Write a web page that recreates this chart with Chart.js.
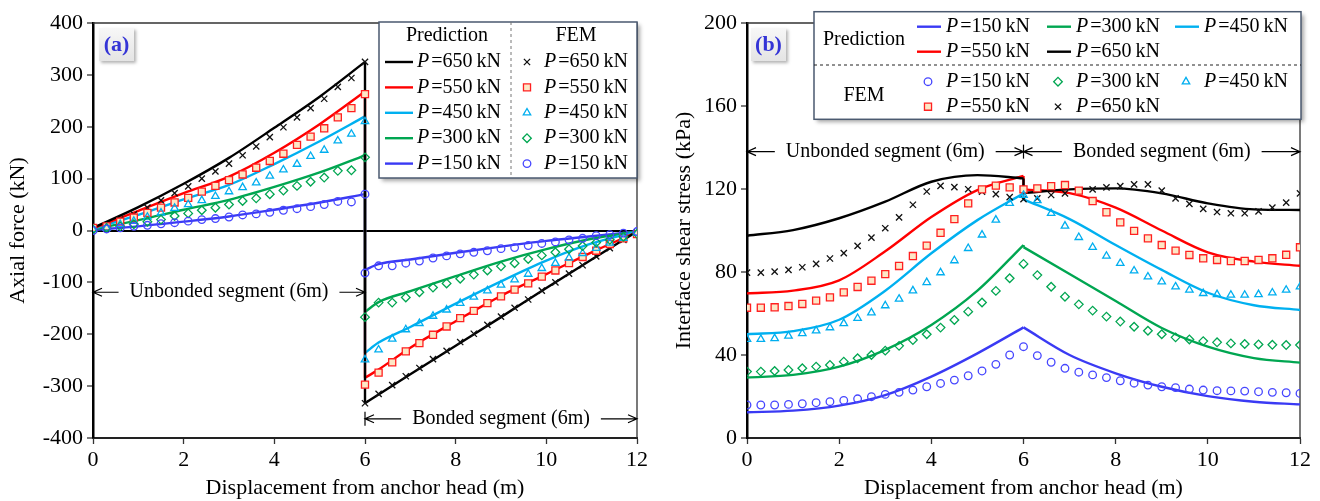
<!DOCTYPE html>
<html>
<head>
<meta charset="utf-8">
<script src="https://cdn.jsdelivr.net/npm/chart.js@4.4.1/dist/chart.umd.min.js"></script>
<style>
  html, body { margin: 0; background: #fff; }
  #wrap { position: relative; width: 1320px; height: 501px; }
  .panel { position: absolute; top: 0; width: 660px; height: 501px; }
</style>
</head>
<body>
<div id="wrap">
  <div class="panel" style="left:0"><canvas id="axial"></canvas></div>
  <div class="panel" style="left:660px"><canvas id="shear"></canvas></div>
</div>
<script>
// anchor loads, one row per load in every table below
const loads = [150, 300, 450, 550, 650];

// station positions (m)
const predXa = [0, 1, 2, 3, 4, 5, 6];
const predXb = [6, 7, 8, 9, 10, 11, 12];
const predXbAxial = [6, 6.3, 7, 8, 9, 10, 11, 12];
const femXa = [0, 0.3, 0.6, 0.9, 1.2, 1.5, 1.8, 2.1, 2.4, 2.7, 3, 3.3, 3.6, 3.9, 4.2, 4.5, 4.8, 5.1, 5.4, 5.7, 6];
const femXb = [6, 6.3, 6.6, 6.9, 7.2, 7.5, 7.8, 8.1, 8.4, 8.7, 9, 9.3, 9.6, 9.9, 10.2, 10.5, 10.8, 11.1, 11.4, 11.7, 12];

// (a) axial force, kN
const axialPredFree = [
  [1, 8, 17, 27, 40, 54, 70],
  [2, 20, 40, 59, 84, 112, 145],
  [3, 30, 60, 88, 128, 172, 220],
  [4, 38, 72, 104, 150, 205, 268],
  [5, 45, 90, 140, 198, 258, 325]
];
const axialPredBond = [
  [-76, -65, -56, -43, -31, -20, -11, -2],
  [-157, -138, -117, -88, -60, -36, -16, -2],
  [-236, -216, -186, -141, -98, -58, -25, -2],
  [-284, -268, -226, -175, -126, -84, -42, -3],
  [-333, -316, -277, -222, -167, -111, -56, -2]
];
const axialFemFree = [
  [0, 3, 5, 8, 10, 13, 15, 18, 21, 23, 26, 30, 32, 35, 39, 42, 46, 50, 56, 55, 70],
  [2, 5, 8, 12, 17, 21, 28, 33, 39, 44, 50, 57, 62, 70, 77, 86, 94, 102, 115, 116, 141],
  [2, 5, 12, 18, 26, 34, 43, 50, 58, 66, 75, 83, 92, 105, 117, 128, 143, 155, 173, 186, 210],
  [5, 8, 17, 25, 34, 44, 54, 63, 75, 86, 97, 108, 121, 134, 148, 165, 181, 197, 218, 236, 263],
  [5, 10, 21, 31, 44, 58, 72, 85, 100, 114, 129, 145, 162, 180, 199, 218, 236, 254, 277, 294, 325]
];
const axialFemBond = [
  [-82, -68, -68, -63, -59, -53, -49, -45, -42, -39, -35, -33, -29, -25, -22, -18, -15, -10, -8, -5, -2],
  [-167, -139, -139, -129, -119, -110, -102, -93, -85, -77, -69, -63, -55, -48, -42, -36, -30, -23, -18, -12, -6],
  [-249, -230, -209, -191, -179, -165, -153, -140, -128, -116, -105, -95, -84, -73, -63, -53, -44, -34, -24, -15, -5],
  [-297, -274, -254, -233, -217, -201, -185, -169, -155, -140, -127, -114, -102, -89, -77, -63, -51, -39, -26, -15, -7],
  [-333, -315, -298, -281, -265, -248, -232, -215, -199, -182, -166, -149, -133, -116, -100, -83, -67, -50, -34, -18, -4]
];

// (b) interface shear stress, kPa
const shearPredFree = [
  [12.4, 13.2, 15.6, 20.7, 29.6, 40.8, 53.3],
  [29.1, 30.4, 34.4, 42.5, 54.5, 71, 93],
  [50, 51.5, 57, 71, 89, 105, 117.9],
  [69.7, 71, 76, 90, 106.5, 119.5, 126.3],
  [97.5, 100.2, 105.9, 113.9, 123.5, 126.7, 125.1]
];
const shearPredBond = [
  [53.3, 40, 31.2, 24.7, 20.2, 17.5, 16.2],
  [92, 79, 66, 53, 44, 38.5, 36.3],
  [115, 105.5, 93, 81, 70, 64, 61.7],
  [119.8, 118, 111, 100, 89.5, 85, 83],
  [118, 119.8, 120.3, 117.9, 113.1, 110.2, 109.9]
];
const shearFem = [
  [15.9, 15.9, 15.9, 16.2, 16.5, 17, 17.5, 18.1, 18.9, 19.9, 21, 22, 23.1, 24.7, 26.3, 27.9, 30, 32.3, 35.5, 40, 44,
   39.7, 36.5, 33.6, 31.7, 30.4, 29.1, 27.6, 26.4, 25.5, 24.7, 24.3, 23.6, 23.1, 22.8, 22.7, 22.6, 22.3, 22, 21.8, 21.5],
  [32, 32, 32.3, 32.8, 33.6, 34.4, 35.2, 36.8, 38.4, 40, 42.1, 44.4, 47.2, 50, 53.2, 56.9, 60.9, 65.3, 70.9, 77, 83.9,
   78.5, 72.9, 68.1, 64.4, 61.4, 58.5, 56.1, 53.6, 51.7, 50, 48.5, 47.5, 46.7, 46.1, 45.6, 45.3, 45.1, 44.9, 44.8, 44.8],
  [47.6, 47.6, 48, 49.2, 50.4, 51.7, 53.2, 55.2, 57.7, 60.4, 63.8, 67, 71, 75, 79.7, 85.5, 91.4, 97.9, 105.1, 113.1, 117,
   114.5, 108.3, 102.2, 96.7, 91.9, 87.7, 84.2, 80.6, 77.7, 75.3, 72.9, 71.3, 69.7, 69.2, 68.9, 68.9, 69.2, 70, 71.3, 72.9],
  [62.8, 62.8, 63, 63.6, 64.6, 66.2, 67.8, 70.2, 72.8, 75.8, 79, 82.9, 87.7, 92.7, 98.9, 105.5, 113.1, 119.8, 121.6, 120.8, 119.8,
   120.3, 121.4, 121.9, 119.2, 114.2, 108.8, 103.9, 99.8, 96.2, 93, 90.3, 88.2, 86.6, 85.8, 85.3, 85.3, 85.8, 86.6, 88.3, 91.9],
  [79.7, 79.7, 80.2, 81, 82.3, 83.9, 86.5, 89.1, 92.6, 96.6, 101.1, 106.3, 112.4, 118.8, 121.5, 120.9, 119.9, 118.7, 117.5, 116.1, 115.1,
   115.5, 117.1, 117.9, 119.2, 119.8, 120.8, 121.4, 122.2, 122.2, 119.2, 115.5, 112.8, 110.4, 108.9, 108.3, 108.3, 109.2, 111, 113.4, 117.9]
];

// series styling
const lineColors = ['#3a3af4', '#00a651', '#00b0f0', '#ff0000', '#000000'];
const markColors = ['#4646ff', '#00a651', '#00aeef', '#ff2020', '#111111'];
const markFills = ['rgba(0,0,0,0)', 'rgba(0,0,0,0)', 'rgba(0,0,0,0)', '#fde7c6', 'rgba(0,0,0,0)'];
const markStyles = ['circle', 'rectRot', 'triangle', 'rect', 'crossRot'];
const markSizes = [3.8, 4.3, 4.3, 5, 4.4];

const serif = "'Liberation Serif', 'Times New Roman', serif";
Chart.defaults.font.family = serif;
Chart.defaults.font.size = 22;
Chart.defaults.color = '#000';

const pairs = (xs, ys) => ys.map((y, i) => ({ x: xs[i], y: y }));

function buildDatasets(freeX, free, bondX, bond, femX, fem) {
  const sets = [];
  loads.forEach((p, i) => {
    const line = {
      showLine: true, borderColor: lineColors[i], borderWidth: 2.4,
      pointRadius: 0, cubicInterpolationMode: 'monotone', order: 10 - i
    };
    const a = pairs(freeX, free[i]);
    const b = pairs(bondX, bond[i]);
    sets.push(Object.assign({}, line, { data: a }));
    sets.push(Object.assign({}, line, { data: b }));
    // step between the free and bonded lengths at the bond start
    sets.push(Object.assign({}, line, { cubicInterpolationMode: 'default', tension: 0, data: [a[a.length - 1], b[0]] }));
  });
  loads.forEach((p, i) => {
    sets.push({
      showLine: false, data: pairs(femX, fem[i]), order: 0,
      pointStyle: markStyles[i], pointRadius: markSizes[i],
      borderColor: markColors[i], backgroundColor: markFills[i], borderWidth: 1.3
    });
  });
  return sets;
}

function entryText(ctx, x, y, p) {
  ctx.textAlign = 'left';
  ctx.textBaseline = 'middle';
  ctx.font = 'italic 20px ' + serif;
  ctx.fillText('P', x, y);
  const w = ctx.measureText('P').width;
  ctx.font = '20px ' + serif;
  ctx.fillText('=' + p + '\u2009kN', x + w + 2, y);
}

function lineSample(ctx, x, y, len, i) {
  ctx.strokeStyle = lineColors[i];
  ctx.lineWidth = 2.4;
  ctx.beginPath(); ctx.moveTo(x, y); ctx.lineTo(x + len, y); ctx.stroke();
}

function marker(ctx, x, y, i) {
  ctx.strokeStyle = markColors[i];
  ctx.fillStyle = markFills[i];
  ctx.lineWidth = 1.3;
  Chart.helpers.drawPoint(ctx, { pointStyle: markStyles[i], radius: markSizes[i], rotation: 0, borderWidth: 1.3 }, x, y);
}

function legendBox(ctx, L, T, w, h) {
  ctx.save();
  ctx.shadowColor = 'rgba(0,0,0,0.35)';
  ctx.shadowBlur = 4;
  ctx.shadowOffsetX = 3;
  ctx.shadowOffsetY = 3;
  ctx.fillStyle = '#fff';
  ctx.fillRect(L, T, w, h);
  ctx.restore();
  ctx.strokeStyle = '#4b5a70';
  ctx.lineWidth = 1.5;
  ctx.strokeRect(L, T, w, h);
}

// two columns, prediction | FEM, loads listed from the largest down
function legendColumns(chart) {
  const ctx = chart.ctx, a = chart.chartArea;
  const w = 258, h = 156, L = a.right - w, T = a.top - 1;
  ctx.save();
  legendBox(ctx, L, T, w, h);
  ctx.strokeStyle = '#777'; ctx.lineWidth = 1; ctx.setLineDash([3, 3]);
  ctx.beginPath(); ctx.moveTo(L + 132, T); ctx.lineTo(L + 132, T + h); ctx.stroke();
  ctx.setLineDash([]);
  ctx.fillStyle = '#000'; ctx.font = '20px ' + serif; ctx.textAlign = 'center'; ctx.textBaseline = 'middle';
  ctx.fillText('Prediction', L + 68, T + 14);
  ctx.fillText('FEM', L + 197, T + 14);
  for (let r = 0; r < loads.length; r++) {
    const i = loads.length - 1 - r, y = T + 40 + r * 25.4;
    lineSample(ctx, L + 6, y, 28, i);
    ctx.fillStyle = '#000';
    entryText(ctx, L + 38, y, loads[i]);
    marker(ctx, L + 148, y, i);
    ctx.fillStyle = '#000';
    entryText(ctx, L + 165, y, loads[i]);
  }
  ctx.restore();
}

// rows of three, prediction block over FEM block
function legendRows(chart) {
  const ctx = chart.ctx, a = chart.chartArea;
  const w = 487, h = 107.6, L = a.right - w + 1, T = a.top - 11.3;
  const cols = [103, 233, 361], rows = [15, 40];
  ctx.save();
  legendBox(ctx, L, T, w, h);
  ctx.strokeStyle = '#222'; ctx.lineWidth = 1; ctx.setLineDash([3, 3]);
  ctx.beginPath(); ctx.moveTo(L, T + 53.3); ctx.lineTo(L + w, T + 53.3); ctx.stroke();
  ctx.setLineDash([]);
  ctx.fillStyle = '#000'; ctx.font = '20px ' + serif; ctx.textAlign = 'center'; ctx.textBaseline = 'middle';
  ctx.fillText('Prediction', L + 50, T + 28.3);
  ctx.fillText('FEM', L + 50, T + 84.3);
  loads.forEach((p, i) => {
    const cx = L + cols[i % 3], ry = rows[Math.floor(i / 3)];
    lineSample(ctx, cx, T + ry, 24, i);
    ctx.fillStyle = '#000';
    entryText(ctx, cx + 29, T + ry, p);
    marker(ctx, cx + 11, T + ry + 55, i);
    ctx.fillStyle = '#000';
    entryText(ctx, cx + 29, T + ry + 55, p);
  });
  ctx.restore();
}

function arrow(ctx, xFrom, xTo, y) {
  const d = xTo > xFrom ? 1 : -1;
  ctx.beginPath();
  ctx.moveTo(xFrom, y); ctx.lineTo(xTo, y);
  ctx.moveTo(xTo - d * 9, y - 4); ctx.lineTo(xTo, y); ctx.lineTo(xTo - d * 9, y + 4);
  ctx.stroke();
}

function decor(spans, tag, legend) {
  return {
    id: 'decor',
    beforeDatasetsDraw(chart) {
      const ctx = chart.ctx, a = chart.chartArea;
      ctx.save();
      ctx.strokeStyle = '#333'; ctx.lineWidth = 1.3;
      ctx.beginPath(); ctx.moveTo(a.left, a.top); ctx.lineTo(a.right, a.top); ctx.lineTo(a.right, a.bottom); ctx.stroke();
      ctx.restore();
    },
    afterDraw(chart) {
      const ctx = chart.ctx, a = chart.chartArea, sx = chart.scales.x, sy = chart.scales.y;
      ctx.save();
      ctx.fillStyle = '#000'; ctx.strokeStyle = '#000'; ctx.lineWidth = 1.2;
      ctx.font = '20px ' + serif; ctx.textAlign = 'center'; ctx.textBaseline = 'middle';
      spans.forEach(s => {
        const x1 = sx.getPixelForValue(s.from), x2 = sx.getPixelForValue(s.to), y = sy.getPixelForValue(s.at);
        const mid = (x1 + x2) / 2, half = ctx.measureText(s.text).width / 2;
        ctx.fillText(s.text, mid, y);
        arrow(ctx, mid - half - 11, x1, y);
        arrow(ctx, mid + half + 11, x2, y);
        s.bars.forEach(b => {
          const bx = sx.getPixelForValue(b);
          ctx.beginPath(); ctx.moveTo(bx, y - 7); ctx.lineTo(bx, y + 7); ctx.stroke();
        });
      });
      // panel tag
      const tx = a.left + tag.dx, ty = a.top + 5, tw = 35, th = 33;
      ctx.save();
      ctx.shadowColor = 'rgba(0,0,0,0.3)'; ctx.shadowBlur = 3; ctx.shadowOffsetX = 2; ctx.shadowOffsetY = 2;
      const g = ctx.createLinearGradient(0, ty, 0, ty + th);
      g.addColorStop(0, '#f7f7f7'); g.addColorStop(1, '#e4e4e4');
      ctx.fillStyle = g; ctx.fillRect(tx, ty, tw, th);
      ctx.restore();
      ctx.fillStyle = '#3434d6'; ctx.font = 'bold 22px ' + serif;
      ctx.fillText(tag.text, tx + tw / 2, ty + th / 2 + 1);
      legend(chart);
      ctx.restore();
    }
  };
}

function makeChart(id, datasets, yRange, yTitle, axisW, titlePad, zeroLine, plugin) {
  return new Chart(document.getElementById(id), {
    type: 'scatter',
    data: { datasets: datasets },
    options: {
      responsive: true, maintainAspectRatio: false, animation: false, events: [],
      devicePixelRatio: 1,
      layout: { padding: { top: 23, right: 660 - axisW - yRange.plotW, bottom: 0, left: 0 } },
      plugins: { legend: { display: false }, tooltip: { enabled: false } },
      scales: {
        x: {
          type: 'linear', min: 0, max: 12,
          ticks: { stepSize: 2, padding: 3, maxRotation: 0 },
          grid: { drawOnChartArea: false, tickLength: 6, tickColor: '#333', tickWidth: 1.3 },
          border: { color: '#222', width: 2 },
          title: { display: true, text: 'Displacement from anchor head (m)', padding: { top: 0, bottom: 0 } },
          afterFit: s => { s.height = 63; }
        },
        y: {
          min: yRange.min, max: yRange.max,
          ticks: { stepSize: yRange.step, padding: 4 },
          grid: {
            drawOnChartArea: zeroLine, tickLength: 6, tickColor: '#333', tickWidth: 1.3,
            color: c => (c.tick && c.tick.value === 0) ? '#000' : 'rgba(0,0,0,0)',
            lineWidth: c => (c.tick && c.tick.value === 0) ? 2 : 0
          },
          border: { color: '#000', width: 2.5 },
          title: { display: true, text: yTitle, padding: { top: titlePad, bottom: 0 } },
          afterFit: s => { s.width = axisW; }
        }
      }
    },
    plugins: [plugin]
  });
}

makeChart('axial',
  buildDatasets(predXa, axialPredFree, predXbAxial, axialPredBond, femXa.concat(femXb),
    axialFemFree.map((row, i) => row.concat(axialFemBond[i]))),
  { min: -400, max: 400, step: 100, plotW: 544 }, 'Axial force (kN)', 93, 5, true,
  decor([
    { from: 0, to: 6, at: -119, text: 'Unbonded segment (6m)', bars: [] },
    { from: 6, to: 12, at: -363, text: 'Bonded segment (6m)', bars: [6] }
  ], { text: '(a)', dx: 6 }, legendColumns));

makeChart('shear',
  buildDatasets(predXa, shearPredFree, predXb, shearPredBond, femXa.concat(femXb.slice(1)), shearFem),
  { min: 0, max: 200, step: 40, plotW: 553 }, 'Interface shear stress (kPa)', 87, 11, false,
  decor([
    { from: 0, to: 6, at: 138, text: 'Unbonded segment (6m)', bars: [6] },
    { from: 6, to: 12, at: 138, text: 'Bonded segment (6m)', bars: [] }
  ], { text: '(b)', dx: 4 }, legendRows));
</script>
</body>
</html>
